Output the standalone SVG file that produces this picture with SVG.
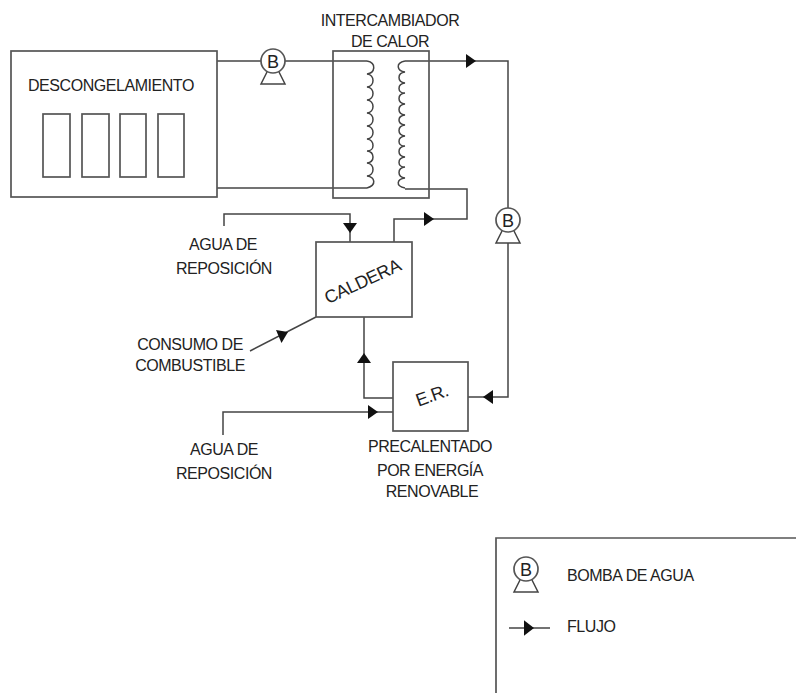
<svg xmlns="http://www.w3.org/2000/svg" xmlns:xlink="http://www.w3.org/1999/xlink" width="796" height="693" viewBox="0 0 796 693">
<style>
.l{fill:none;stroke:#444;stroke-width:1.5}
.b{fill:#fff;stroke:#555;stroke-width:1.7}
.a{fill:#111;stroke:none}
text{font-family:"Liberation Sans",Arial,sans-serif;font-size:16px;fill:#222;text-anchor:middle;letter-spacing:-0.45px}
.s{text-anchor:start}
</style>
<defs>
<g id="pump">
<path class="l" d="M-6 11L-12 23H12L6 11" />
<circle class="b" r="12"/>
<text y="6.5" style="font-size:18px;letter-spacing:0">B</text>
</g>
<path id="ar" class="a" d="M-5 -7L5 0L-5 7Z"/>
</defs>
<rect width="796" height="693" fill="#fff"/>
<g id="connectors">
<path class="l" d="M217 61H367"/>
<path class="l" d="M217 188H367"/>
<path class="l" d="M367 61c10 2 8 12 0 13c8 1 8 12 0 13c8 1 8 12 0 13c8 1 8 12 0 13c8 1 8 12 0 13c8 1 8 12 0 13c8 1 8 12 0 12c8 1 8 11 0 12c8 1 8 12 0 13c8 1 10 9 0 12"/>
<path class="l" d="M405 61c-10 2 -8 10 0 11c-8 1 -8 10 0 11c-8 1 -8 10 0 10c-8 1 -8 10 0 11c-8 1 -8 10 0 11c-8 1 -8 9 0 10c-8 1 -8 10 0 11c-8 1 -8 10 0 10c-8 1 -8 10 0 11c-8 1 -8 10 0 10c-8 1 -8 10 0 11c-8 1 -10 8 0 10"/>
<path class="l" d="M405 61H508V208"/>
<path class="l" d="M508 243V397H468"/>
<path class="l" d="M405 189H467V219H394V242"/>
<path class="l" d="M224 226V214H350V242"/>
<path class="l" d="M250 351L316 317"/>
<path class="l" d="M364 317V398H393"/>
<path class="l" d="M223 435V412H393"/>
<use xlink:href="#ar" href="#ar" transform="translate(471 61)"/>
<use xlink:href="#ar" href="#ar" transform="translate(429 219)"/>
<use xlink:href="#ar" href="#ar" transform="translate(350 228) rotate(90)"/>
<path class="a" d="M276 330L288 332L281.5 343Z"/>
<use xlink:href="#ar" href="#ar" transform="translate(364 358) rotate(-90)"/>
<use xlink:href="#ar" href="#ar" transform="translate(373 412)"/>
<use xlink:href="#ar" href="#ar" transform="translate(488 397) rotate(180)"/>
</g>
<g id="descongelamiento">
<rect class="b" x="11" y="51" width="206" height="146"/>
<rect class="b" x="43" y="114" width="27" height="63"/>
<rect class="b" x="82" y="114" width="27" height="63"/>
<rect class="b" x="120" y="114" width="26" height="63"/>
<rect class="b" x="158" y="114" width="26" height="63"/>
<text class="s" x="28" y="91">DESCONGELAMIENTO</text>
</g>
<g id="intercambiador">
<rect x="333" y="51" width="96" height="147" fill="none" stroke="#555" stroke-width="1.7"/>
<text x="390" y="26">INTERCAMBIADOR</text>
<text x="390" y="47">DE CALOR</text>
</g>
<g id="bomba1"><use xlink:href="#pump" href="#pump" transform="translate(273 61)"/></g>
<g id="bomba2"><use xlink:href="#pump" href="#pump" transform="translate(508 220)"/></g>
<g id="caldera">
<rect class="b" x="316" y="242" width="96" height="75"/>
<text transform="translate(365 287) rotate(-25)" style="font-size:18px">CALDERA</text>
</g>
<g id="er">
<rect class="b" x="393" y="362" width="75" height="69"/>
<text transform="translate(434 401) rotate(-20)" style="font-size:18px">E.R.</text>
</g>
<g id="labels">
<text x="223" y="250">AGUA DE</text>
<text x="224" y="274">REPOSICIÓN</text>
<text x="190" y="350">CONSUMO DE</text>
<text x="190" y="371">COMBUSTIBLE</text>
<text x="224" y="455">AGUA DE</text>
<text x="224" y="479">REPOSICIÓN</text>
<text x="430" y="452">PRECALENTADO</text>
<text x="430" y="476">POR ENERGÍA</text>
<text x="432" y="497">RENOVABLE</text>
</g>
<g id="leyenda">
<path class="b" style="fill:none" d="M796 538H496V693"/>
<use xlink:href="#pump" href="#pump" transform="translate(526 569)"/>
<text class="s" x="567" y="581">BOMBA DE AGUA</text>
<path class="l" d="M509 628H550"/>
<use xlink:href="#ar" href="#ar" transform="translate(529 628) scale(1 1.1)"/>
<text class="s" x="567" y="632">FLUJO</text>
</g>
</svg>
